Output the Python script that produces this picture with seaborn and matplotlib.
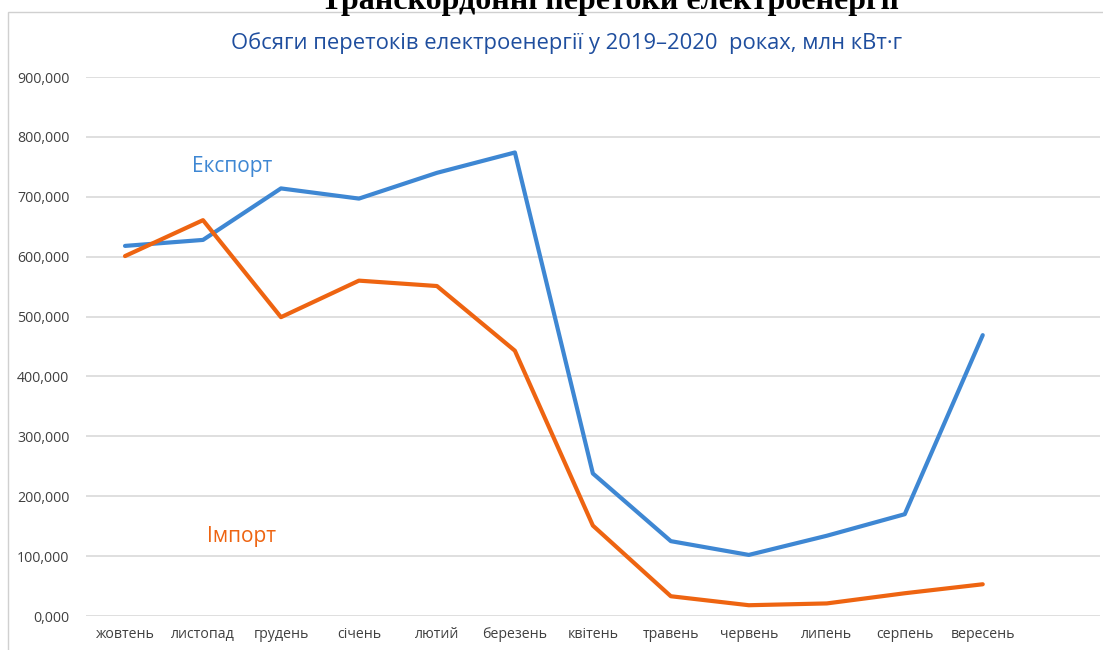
import numpy as np
import pandas as pd
import matplotlib
matplotlib.use("Agg")
import matplotlib.pyplot as plt
import matplotlib.patches as patches
from matplotlib.ticker import FuncFormatter
import seaborn as sns

# ---- data (млн кВт·г) ----
months = ["жовтень", "листопад", "грудень", "січень", "лютий", "березень",
          "квітень", "травень", "червень", "липень", "серпень", "вересень"]
export_vals = [618, 628, 714, 697, 740, 774, 238, 125, 102, 134, 170, 469]
import_vals = [601, 661, 499, 560, 551, 443, 151, 33, 18, 21, 38, 53]

df = pd.DataFrame({
    "month": months * 2,
    "pos": list(range(len(months))) * 2,
    "value": export_vals + import_vals,
    "series": ["Експорт"] * len(months) + ["Імпорт"] * len(months),
})

sns.set_style("white")
plt.rcParams["font.family"] = ["Open Sans", "DejaVu Sans"]

blue = "#3E87D3"
orange = "#EE6411"

fig = plt.figure(figsize=(11.03, 6.5), dpi=100)
ax = fig.add_axes([0.078, 0.0523, 0.919, 0.8292])

sns.lineplot(data=df, x="pos", y="value", hue="series",
             palette={"Експорт": blue, "Імпорт": orange},
             linewidth=3, legend=False, ax=ax)

ax.set_xlim(-0.5, 12.5)
ax.set_ylim(0, 900)
ax.set_yticks(np.arange(0, 901, 100))
ax.yaxis.set_major_formatter(FuncFormatter(lambda v, p: f"{v:.3f}".replace(".", ",")))
ax.set_xticks(range(len(months)))
ax.set_xticklabels(months)
ax.tick_params(axis="both", length=0, labelsize=10.2, labelcolor="#404040")
ax.tick_params(axis="y", pad=12)
ax.tick_params(axis="x", pad=8)
ax.grid(axis="y", color="#d9d9d9", linewidth=1.2)
ax.set_axisbelow(True)
for s in ax.spines.values():
    s.set_visible(False)
ax.set_xlabel("")
ax.set_ylabel("")

ax.text(1.38, 750, "Експорт", color=blue, fontsize=15, ha="center", va="center")
ax.text(1.49, 133, "Імпорт", color=orange, fontsize=15, ha="center", va="center")

# chart frame
fig.patches.append(patches.Rectangle((8 / 1103, -0.1), 1.2, 1 - 12 / 650 + 0.1,
                                     transform=fig.transFigure, fill=False,
                                     edgecolor="#d0d0d0", linewidth=1))

fig.text(0.514, 1 - 43 / 650, "Обсяги перетоків електроенергії у 2019–2020  роках, млн кВт·г",
         color="#1F4E9E", fontsize=15.8, ha="center", va="center")

# document heading, partly cut off at the top
fig.text(0.553, 1 - 9 / 650, "Транскордонні перетоки електроенергії",
         family="Liberation Serif", weight="bold", fontsize=23,
         ha="center", va="baseline", color="black")

fig.savefig("out.png", dpi=100)
